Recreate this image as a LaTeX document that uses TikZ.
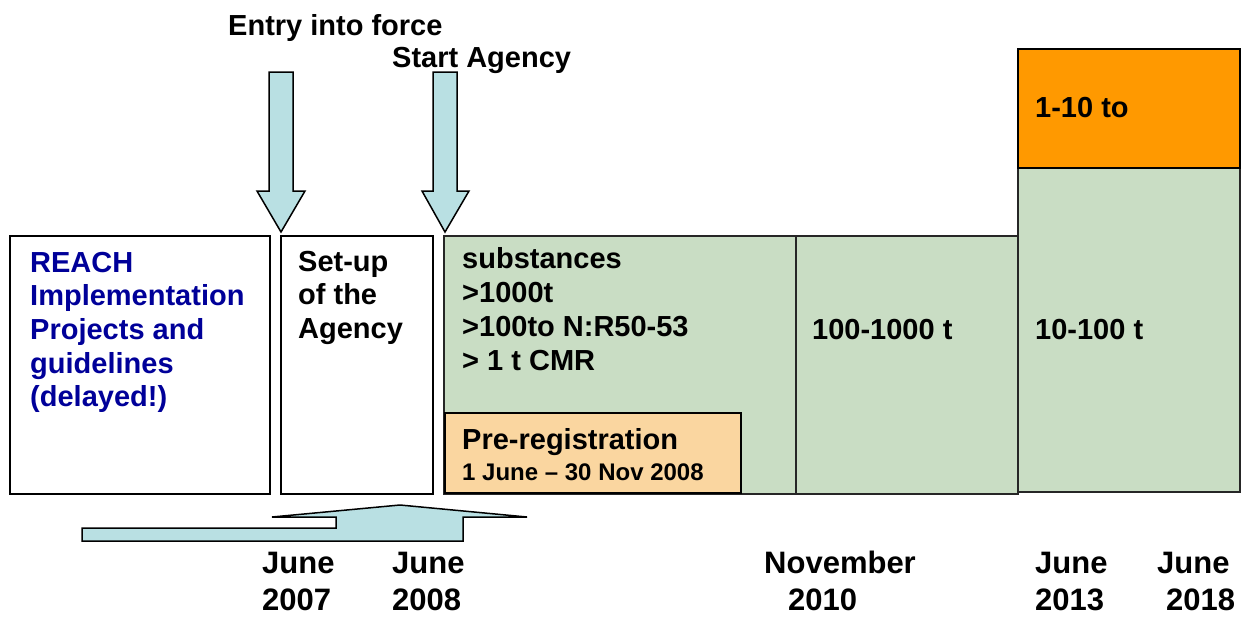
\documentclass[tikz,border=0pt]{standalone}
\usepackage{fontspec}
\setmainfont{Liberation Sans}
\definecolor{arrowblue}{HTML}{B9E0E3}
\definecolor{boxgreen}{HTML}{C9DDC4}
\definecolor{boxorange}{HTML}{FF9900}
\definecolor{boxtan}{HTML}{FAD6A0}
\definecolor{textblue}{HTML}{000099}
\tikzset{
  whitebox/.style={draw=black, line width=1.5pt, fill=white},
  greenbox/.style={draw=black!85, line width=1.3pt, fill=boxgreen},
  orangebox/.style={draw=black, line width=1.5pt, fill=boxorange},
  tanbox/.style={draw=black, line width=1.5pt, fill=boxtan},
  bluearrow/.style={draw=black, line width=1.5pt, fill=arrowblue, line join=miter},
  lbl/.style={anchor=base west, inner sep=0pt, align=left, font=\bfseries\fontsize{29}{33.7}\selectfont},
  small/.style={anchor=base west, inner sep=0pt, font=\bfseries\fontsize{24}{28}\selectfont},
  datelbl/.style={anchor=base west, inner sep=0pt, align=left, font=\bfseries\fontsize{31}{37}\selectfont}
}
\begin{document}
\begin{tikzpicture}[x=1pt, y=-1pt]
\useasboundingbox (0,0) rectangle (1247,619);
% boxes
\draw[whitebox] (10,236) rectangle (270,494);
\draw[whitebox] (281,236) rectangle (433,494);
\draw[greenbox] (444,236) rectangle (796,494);
\draw[greenbox] (796,236) rectangle (1018,494);
\draw[greenbox] (1018,168) rectangle (1240,492);
\draw[orangebox] (1018,49) rectangle (1240,168);
\draw[tanbox] (445,413) rectangle (741,493);
% down arrows
\draw[bluearrow] (269,72) -- (293,72) -- (293,191) -- (305,191) -- (281,232) -- (257,191) -- (269,191) -- cycle;
\draw[bluearrow] (433,72) -- (457,72) -- (457,191) -- (469,191) -- (445,232) -- (422,191) -- (433,191) -- cycle;
% bottom arrow
\draw[bluearrow] (82,528) -- (336,528) -- (336,517) -- (272,517) -- (400,505) -- (527,517) -- (463,517) -- (463,541) -- (82,541) -- cycle;
% texts (base anchor of a multi-line node = baseline of its last line)
\node[lbl] (entry) at (228,35) {Entry into force};
\node[lbl] (start) at (392,67) {Start Agency};
\node[lbl, text=textblue] (reach) at (30,406.8) {REACH\\Implementation\\Projects and\\guidelines\\(delayed!)};
\node[lbl] (setup) at (298,338.4) {Set-up\\of the\\Agency};
\node[lbl] (subst) at (462,370) {substances\\>1000t\\>100to N:R50-53\\> 1 t CMR};
\node[lbl] (t1000) at (812,339) {100-1000 t};
\node[lbl] (t100) at (1035,339) {10-100 t};
\node[lbl] (t10) at (1035,117) {1-10 to};
\node[lbl] (prereg) at (462,449) {Pre-registration};
\node[small] (preregdate) at (462,480) {1 June – 30 Nov 2008};
% dates
\node[datelbl] (d2007) at (262,610) {June\\2007};
\node[datelbl] (d2008) at (392,610) {June\\2008};
\node[datelbl] (d2010) at (764,610) {November\\\hspace*{24pt}2010};
\node[datelbl] (d2013) at (1035,610) {June\\2013};
\node[datelbl] (d2018) at (1157,610) {June\\\hspace*{9pt}2018};
\end{tikzpicture}
\end{document}
